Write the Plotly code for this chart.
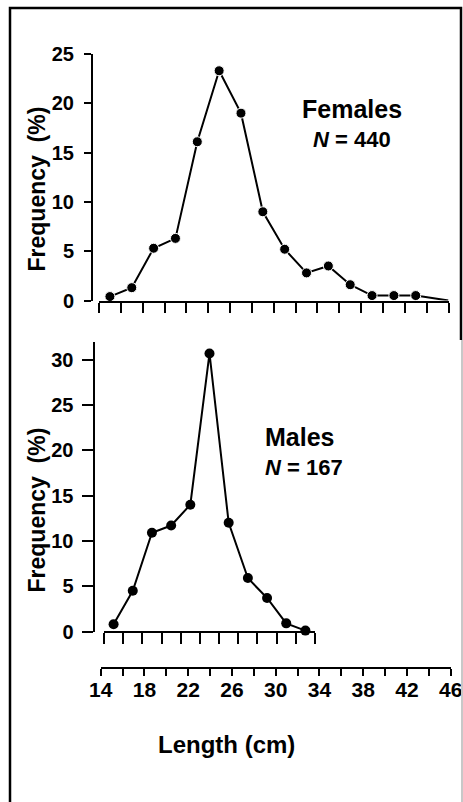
import plotly.graph_objects as go

W, H = 463, 802

# ---- data ----
female_length = [15, 17, 19, 21, 23, 25, 27, 29, 31, 33, 35, 37, 39, 41, 43, 46]
female_freq = [0.4, 1.3, 5.3, 6.3, 16.1, 23.3, 19.0, 9.0, 5.2, 2.8, 3.5, 1.6, 0.5, 0.5, 0.5, 0.0]
female_marker = [True] * 15 + [False]

male_length = [15, 17, 19, 21, 23, 25, 27, 29, 31, 33, 35]
male_freq = [0.8, 4.5, 10.9, 11.7, 14.0, 30.7, 12.0, 5.9, 3.7, 0.9, 0.1]

x_ticks = list(range(14, 47, 2))
x_tick_labels = [str(v) if (v - 14) % 4 == 0 else "" for v in x_ticks]
male_x_ticks = list(range(14, 37, 2))
female_y_ticks = [0, 5, 10, 15, 20, 25]
male_y_ticks = [0, 5, 10, 15, 20, 25, 30]

female_label = "Females"
female_n = "<i>N</i> = 440"
male_label = "Males"
male_n = "<i>N</i> = 167"
y_title = "Frequency  (%)"
x_title = "Length (cm)"

FONT = "Liberation Sans, Arial, sans-serif"


def px(x):
    return x / W


def py(y):
    return 1 - y / H


fig = go.Figure()

fig.add_trace(go.Scatter(
    x=female_length, y=female_freq, mode="lines+markers",
    line=dict(color="black", width=2),
    marker=dict(color="black", opacity=1,
                size=[10 if m else 0 for m in female_marker]),
    xaxis="x", yaxis="y", cliponaxis=False, showlegend=False,
))
fig.add_trace(go.Scatter(
    x=male_length, y=male_freq, mode="lines+markers",
    line=dict(color="black", width=2),
    marker=dict(color="black", size=10, opacity=1),
    xaxis="x2", yaxis="y2", cliponaxis=False, showlegend=False,
))
# carrier for the shared length axis
fig.add_trace(go.Scatter(x=[], y=[], xaxis="x3", yaxis="y3", showlegend=False))

# outer frame (open at the bottom), drawn in a full-page pixel overlay
frame_x = [10, 10, 461, 461]
frame_y = [802, 8, 8, 340]
fig.add_trace(go.Scatter(
    x=frame_x, y=frame_y, mode="lines", line=dict(color="black", width=2.5),
    xaxis="x4", yaxis="y4", cliponaxis=False, showlegend=False,
))
fig.add_trace(go.Scatter(
    x=[462, 462], y=[340, 802], mode="lines", line=dict(color="#c8c8c8", width=2),
    xaxis="x4", yaxis="y4", cliponaxis=False, showlegend=False,
))

tickfont = dict(family=FONT, size=20, color="black", weight="bold")
common = dict(showgrid=False, zeroline=False, showline=True, linecolor="black",
              linewidth=2, ticks="outside", tickcolor="black", tickwidth=2,
              automargin=False)

fig.update_layout(
    template="none",
    width=W, height=H, margin=dict(l=0, r=0, t=0, b=0, pad=0),
    paper_bgcolor="white", plot_bgcolor="rgba(0,0,0,0)",
    hovermode=False,
    xaxis=dict(**common, range=[14, 46], domain=[px(99), px(448.5)],
               anchor="free", position=py(301.5), tickvals=x_ticks,
               showticklabels=False, ticklen=10),
    yaxis=dict(**common, range=[0, 25], domain=[py(300.5), py(54)],
               anchor="free", position=px(92), tickvals=female_y_ticks,
               ticklen=7, tickfont=tickfont, ticklabelstandoff=6),
    xaxis2=dict(**common, range=[14, 36], domain=[px(104), px(315)],
                anchor="free", position=py(632), tickvals=male_x_ticks,
                showticklabels=False, ticklen=11),
    yaxis2=dict(**common, range=[0, 32], domain=[py(631.5), py(341.7)],
                anchor="free", position=px(93.5), tickvals=male_y_ticks,
                ticklen=11, tickfont=tickfont, ticklabelstandoff=4),
    xaxis3=dict(**common, range=[14, 46], domain=[px(100.7), px(450.7)],
                anchor="y3", tickvals=x_ticks, ticktext=x_tick_labels,
                ticklen=7, ticklabelstandoff=-4,
                tickfont=dict(family=FONT, size=21, color="black", weight="bold")),
    yaxis3=dict(domain=[py(667), py(650)], visible=False, range=[0, 1]),
    xaxis4=dict(domain=[0, 1], range=[0, W], visible=False, anchor="y4"),
    yaxis4=dict(domain=[0, 1], range=[H, 0], visible=False, anchor="x4"),
)

ann_font = dict(family=FONT, color="black", weight="bold")
anns = [
    dict(text=female_label, x=px(352), y=py(109), size=25, xanchor="center"),
    dict(text=female_n, x=px(352), y=py(139), size=22, xanchor="center"),
    dict(text=male_label, x=px(263), y=py(437), size=25, xanchor="left"),
    dict(text=male_n, x=px(263), y=py(468), size=22, xanchor="left"),
    dict(text=x_title, x=px(226), y=py(744), size=24, xanchor="center"),
]
for a in anns:
    fig.add_annotation(text=a["text"], x=a["x"], y=a["y"], xref="paper", yref="paper",
                       xanchor=a["xanchor"], yanchor="middle", showarrow=False,
                       font=dict(**ann_font, size=a["size"]))
for yc in (189.5, 510.5):
    fig.add_annotation(text=y_title, x=px(36), y=py(yc), xref="paper", yref="paper",
                       xanchor="center", yanchor="middle", showarrow=False,
                       textangle=-90, font=dict(**ann_font, size=23))

fig.write_html("out.html", config={"displayModeBar": False, "staticPlot": True},
               post_script="document.body.style.margin='0px';document.body.style.padding='0px';")
